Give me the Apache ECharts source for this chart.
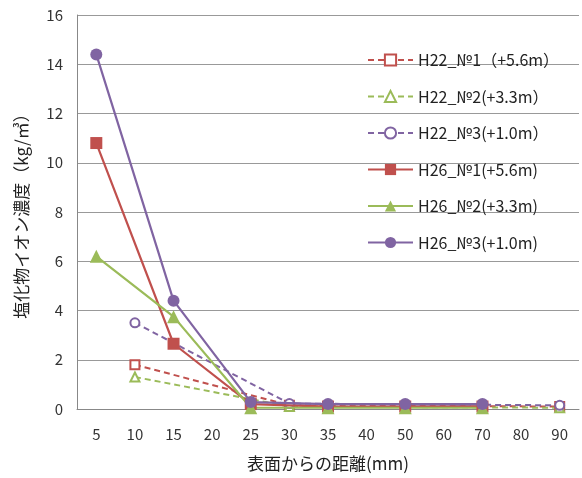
<!DOCTYPE html>
<html>
<head>
<meta charset="utf-8">
<script src="https://cdn.jsdelivr.net/npm/echarts@6/dist/echarts.min.js"></script>
<style>
  html, body { margin: 0; padding: 0; background: #fff; }
  #chart { width: 582px; height: 478px; }
</style>
</head>
<body>
<div id="chart"></div>
<script>
// Depth from the concrete surface (mm)
const depths = ['5', '10', '15', '20', '25', '30', '35', '40', '50', '60', '70', '80', '90'];
const yTicks = [0, 2, 4, 6, 8, 10, 12, 14, 16];

// Chloride ion concentration (kg/m3); null = not measured
const h22No1 = [null, 1.8, null, null, null, 0.15, null, null, null, null, null, null, 0.1];
const h22No2 = [null, 1.3, null, null, null, 0.1, null, null, null, null, null, null, 0.05];
const h22No3 = [null, 3.5, null, null, null, 0.22, null, null, null, null, null, null, 0.15];
const h26No1 = [10.8, null, 2.65, null, 0.2, null, 0.1, null, 0.1, null, 0.1, null, null];
const h26No2 = [6.2, null, 3.75, null, 0.05, null, 0.05, null, 0.05, null, 0.05, null, null];
const h26No3 = [14.4, null, 4.4, null, 0.28, null, 0.2, null, 0.2, null, 0.2, null, null];

const names = ['H22_№1（+5.6m）', 'H22_№2(+3.3m）', 'H22_№3(+1.0m）',
               'H26_№1(+5.6m)', 'H26_№2(+3.3m)', 'H26_№3(+1.0m)'];

const RED = '#C0504D', GREEN = '#9BBB59', PURPLE = '#8064A2';
const FONT = '"Noto Sans CJK JP", "Noto Sans", sans-serif';

function dashed(name, data, color, symbol) {
  return {
    name, type: 'line', data, connectNulls: true,
    symbol, symbolSize: 9,
    lineStyle: { color, width: 2, type: [6, 4] },
    itemStyle: { color, borderWidth: 1.2 },
    z: 2
  };
}
function solid(name, data, color, symbol, size) {
  return {
    name, type: 'line', data, connectNulls: true,
    symbol, symbolSize: size,
    lineStyle: { color, width: 2.2 },
    itemStyle: { color },
    z: 3
  };
}

const chart = echarts.init(document.getElementById('chart'), null, { renderer: 'canvas' });
chart.setOption({
  animation: false,
  backgroundColor: '#fff',
  textStyle: { fontFamily: FONT },
  grid: { left: 77, right: 3, top: 15, bottom: 69 },
  legend: {
    orient: 'vertical',
    left: 362, top: 47,
    itemWidth: 45, itemHeight: 14, itemGap: 20.5,
    textStyle: { fontFamily: FONT, fontSize: 16, color: '#222' },
    data: names
  },
  xAxis: {
    type: 'category',
    data: depths,
    boundaryGap: true,
    name: '表面からの距離(mm)',
    nameLocation: 'middle',
    nameGap: 46,
    nameTextStyle: { fontFamily: FONT, fontSize: 17, color: '#222' },
    axisLine: { lineStyle: { color: '#888', width: 1 } },
    axisTick: { show: false },
    axisLabel: { fontSize: 15, color: '#333', margin: 18, fontFamily: FONT }
  },
  yAxis: {
    type: 'value',
    min: yTicks[0], max: yTicks[yTicks.length - 1], interval: 2,
    name: '塩化物イオン濃度（kg/㎥）',
    nameLocation: 'middle',
    nameRotate: 90,
    nameGap: 47,
    nameTextStyle: { fontFamily: FONT, fontSize: 17, color: '#222' },
    axisLine: { show: true, lineStyle: { color: '#888', width: 1 } },
    axisTick: { show: false },
    axisLabel: { fontSize: 15, color: '#333', margin: 14, fontFamily: FONT },
    splitLine: { lineStyle: { color: '#999', width: 1 } }
  },
  series: [
    dashed(names[0], h22No1, RED, 'emptyRect'),
    dashed(names[1], h22No2, GREEN, 'emptyTriangle'),
    dashed(names[2], h22No3, PURPLE, 'emptyCircle'),
    solid(names[3], h26No1, RED, 'rect', 12),
    solid(names[4], h26No2, GREEN, 'triangle', 13),
    solid(names[5], h26No3, PURPLE, 'circle', 12)
  ]
});
</script>
</body>
</html>
